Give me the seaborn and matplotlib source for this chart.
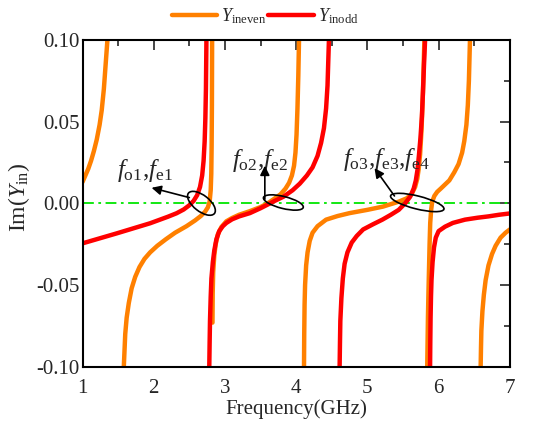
import numpy as np
import pandas as pd
import matplotlib
matplotlib.use("Agg")
import matplotlib.pyplot as plt
import matplotlib.transforms as mtransforms
from matplotlib.patches import Ellipse
from matplotlib.lines import Line2D
from matplotlib.ticker import MultipleLocator, FormatStrFormatter
import seaborn as sns

# ---- data (frequency in GHz, Im(Yin)) ----
# Yin even branches (orange)
even_f = [
    [1.00, 1.04, 1.08, 1.12, 1.16, 1.20, 1.24, 1.27, 1.30, 1.32, 1.34, 1.35],
    [1.58, 1.59, 1.60, 1.62, 1.65, 1.69, 1.74, 1.80, 1.87, 1.95, 2.05, 2.17,
     2.30, 2.46, 2.58, 2.66, 2.72, 2.76, 2.785, 2.80, 2.808, 2.813, 2.817, 2.82],
    [2.825, 2.828, 2.835, 2.85, 2.87, 2.90, 2.95, 3.02, 3.10, 3.20, 3.35, 3.50,
     3.60, 3.70, 3.78, 3.85, 3.90, 3.94, 3.97, 3.99, 4.005, 4.018, 4.03, 4.04],
    [4.11, 4.113, 4.118, 4.125, 4.14, 4.16, 4.19, 4.23, 4.30, 4.42, 4.58, 4.75,
     5.00, 5.22, 5.44, 5.55, 5.62, 5.67, 5.70, 5.72, 5.74, 5.76, 5.78, 5.80],
    [5.84, 5.845, 5.85, 5.857, 5.865, 5.873, 5.882, 5.895, 5.91, 5.94, 5.98,
     6.03, 6.09, 6.15, 6.22, 6.28, 6.33, 6.36, 6.39, 6.41, 6.425, 6.44],
    [6.59, 6.595, 6.60, 6.615, 6.635, 6.66, 6.70, 6.75, 6.80, 6.87, 6.94, 7.00],
]
even_im = [
    [0.013, 0.017, 0.021, 0.026, 0.032, 0.039, 0.048, 0.057, 0.070, 0.082,
     0.094, 0.100],
    [-0.100, -0.090, -0.080, -0.070, -0.061, -0.052, -0.045, -0.039, -0.034,
     -0.030, -0.026, -0.022, -0.018, -0.014, -0.0105, -0.0078, -0.0052, -0.0025,
     0.001, 0.008, 0.018, 0.035, 0.060, 0.100],
    [-0.073, -0.055, -0.042, -0.032, -0.025, -0.019, -0.0145, -0.011, -0.0090,
     -0.0070, -0.0048, -0.0023, 0.000, 0.003, 0.0055, 0.009, 0.0125, 0.017,
     0.023, 0.031, 0.042, 0.058, 0.078, 0.100],
    [-0.100, -0.080, -0.062, -0.050, -0.038, -0.030, -0.023, -0.018, -0.014,
     -0.010, -0.0078, -0.006, -0.004, -0.002, 0.001, 0.003, 0.0055, 0.010,
     0.015, 0.021, 0.030, 0.045, 0.068, 0.100],
    [-0.100, -0.085, -0.070, -0.055, -0.040, -0.025, -0.012, -0.004, 0.001,
     0.0045, 0.007, 0.009, 0.0115, 0.014, 0.019, 0.024, 0.031, 0.038, 0.048,
     0.060, 0.075, 0.100],
    [-0.100, -0.088, -0.078, -0.066, -0.056, -0.047, -0.038, -0.031, -0.026,
     -0.021, -0.018, -0.016],
]

# Yin odd branches (red)
odd_f = [
    [1.00, 1.48, 1.95, 2.20, 2.32, 2.42, 2.50, 2.56, 2.61, 2.65, 2.68, 2.70,
     2.715, 2.725, 2.733, 2.74],
    [2.78, 2.785, 2.79, 2.80, 2.81, 2.83, 2.85, 2.88, 2.92, 2.97, 3.02, 3.10,
     3.20, 3.35, 3.50, 3.59, 3.70, 3.82, 3.95, 4.05, 4.15, 4.23, 4.30, 4.35,
     4.39, 4.42, 4.44, 4.46],
    [4.61, 4.615, 4.62, 4.635, 4.655, 4.68, 4.72, 4.78, 4.85, 4.94, 5.08, 5.21,
     5.33, 5.44, 5.53, 5.60, 5.65, 5.68, 5.705, 5.725, 5.745, 5.765, 5.78,
     5.795, 5.81],
    [5.88, 5.883, 5.887, 5.893, 5.90, 5.915, 5.935, 5.96, 6.00, 6.09, 6.20,
     6.37, 6.55, 6.70, 6.85, 7.00],
]
odd_im = [
    [-0.0245, -0.0184, -0.0122, -0.0082, -0.0061, -0.0038, -0.0012, 0.0015,
     0.005, 0.010, 0.017, 0.026, 0.038, 0.052, 0.070, 0.100],
    [-0.100, -0.085, -0.072, -0.057, -0.046, -0.036, -0.029, -0.022, -0.017,
     -0.014, -0.012, -0.0098, -0.008, -0.006, -0.003, -0.001, 0.0015, 0.004,
     0.008, 0.012, 0.017, 0.022, 0.029, 0.037, 0.046, 0.058, 0.072, 0.100],
    [-0.100, -0.085, -0.072, -0.058, -0.046, -0.037, -0.030, -0.024, -0.020,
     -0.016, -0.0128, -0.010, -0.007, -0.004, 0.000, 0.004, 0.009, 0.014,
     0.021, 0.030, 0.040, 0.053, 0.068, 0.085, 0.100],
    [-0.100, -0.085, -0.070, -0.057, -0.047, -0.036, -0.027, -0.021, -0.017,
     -0.0143, -0.012, -0.010, -0.0088, -0.008, -0.007, -0.0062],
]

series_labels = {"even": r"$Y_{\mathrm{ineven}}$", "odd": r"$Y_{\mathrm{inodd}}$"}
series_colors = {"even": "#FF8000", "odd": "#FF0000"}

# annotations: text, text x, baseline y, ellipse (x, y, w px, h px, angle), arrow tail, arrow head
notes = [
    (r"$f_{\mathrm{o1}}$,$f_{\mathrm{e1}}$", 1.48, 0.016,
     (2.67, 0.0, 33, 16, -38), (2.50, 0.0035), (1.97, 0.0095)),
    (r"$f_{\mathrm{o2}}$,$f_{\mathrm{e2}}$", 3.10, 0.022,
     (3.82, 0.0005, 41, 12, -14), (3.56, 0.0025), (3.56, 0.023)),
    (r"$f_{\mathrm{o3}}$,$f_{\mathrm{e3}}$,$f_{\mathrm{e4}}$", 4.66, 0.0228,
     (5.70, 0.0005, 55, 13, -14), (5.38, 0.0045), (5.10, 0.0215)),
]

# ---- build long table ----
rows = []
for name, fs, vs in [("even", even_f, even_im), ("odd", odd_f, odd_im)]:
    for b, (f, v) in enumerate(zip(fs, vs)):
        for x, y in zip(f, v):
            rows.append((name, f"{name}{b}", x, y))
df = pd.DataFrame(rows, columns=["series", "branch", "freq", "im"])

sns.set_style("white")
plt.rcParams["font.family"] = ["Liberation Serif", "DejaVu Serif"]
plt.rcParams["mathtext.fontset"] = "custom"
plt.rcParams["mathtext.rm"] = "Liberation Serif"
plt.rcParams["mathtext.it"] = "Liberation Serif:italic"

fig = plt.figure(figsize=(5.5, 4.24), dpi=100)
ax = fig.add_axes([0.150, 0.135, 0.777, 0.771])

ax.axhline(0, color="#00E600", lw=1.3, ls=(0, (6, 2.5, 1.5, 2.5)), zorder=1)

sns.lineplot(data=df, x="freq", y="im", hue="series", units="branch",
             estimator=None, sort=False, palette=series_colors,
             hue_order=["even", "odd"], linewidth=3.2, legend=False, ax=ax)

ax.set_xlim(1, 7)
ax.set_ylim(-0.1, 0.1)
ax.xaxis.set_major_locator(MultipleLocator(1))
ax.xaxis.set_minor_locator(MultipleLocator(0.5))
ax.yaxis.set_major_locator(MultipleLocator(0.05))
ax.yaxis.set_minor_locator(MultipleLocator(0.025))
ax.yaxis.set_major_formatter(FormatStrFormatter("%.2f"))
ax.tick_params(which="both", direction="in", top=True, right=True,
               width=1.2, labelsize=15)
ax.tick_params(which="major", length=7.5)
ax.tick_params(which="minor", length=4)
ax.tick_params(axis="x", pad=9)
ax.tick_params(axis="y", pad=2)
for s in ax.spines.values():
    s.set_linewidth(1.5)
    s.set_color("black")

ax.set_xlabel("Frequency(GHz)", fontsize=15, labelpad=1)
ax.set_ylabel(r"Im($Y_{\mathrm{in}}$)", fontsize=17)
ax.yaxis.set_label_coords(-0.118, 0.52)

for text, tx, ty, ell, tail, head in notes:
    ax.text(tx, ty, text, fontsize=18, va="baseline", ha="left")
    ex, ey, ew, eh, ea = ell
    trans = fig.dpi_scale_trans + mtransforms.ScaledTranslation(ex, ey, ax.transData)
    ax.add_patch(Ellipse((0, 0), ew / 100, eh / 100, angle=ea, transform=trans,
                         fill=False, ec="black", lw=1.2, zorder=5))
    ax.annotate("", xy=head, xytext=tail,
                arrowprops=dict(arrowstyle="-|>", color="black", lw=1.2,
                                mutation_scale=14, shrinkA=0, shrinkB=0))

handles = [Line2D([], [], color=series_colors[k], lw=3.2) for k in ["even", "odd"]]
fig.legend(handles, [series_labels[k] for k in ["even", "odd"]], loc="center",
           bbox_to_anchor=(0.482, 0.962), ncol=2, frameon=False, fontsize=13,
           handlelength=2.5, handletextpad=0.25, columnspacing=0.1)

fig.savefig("out.png", dpi=100)
